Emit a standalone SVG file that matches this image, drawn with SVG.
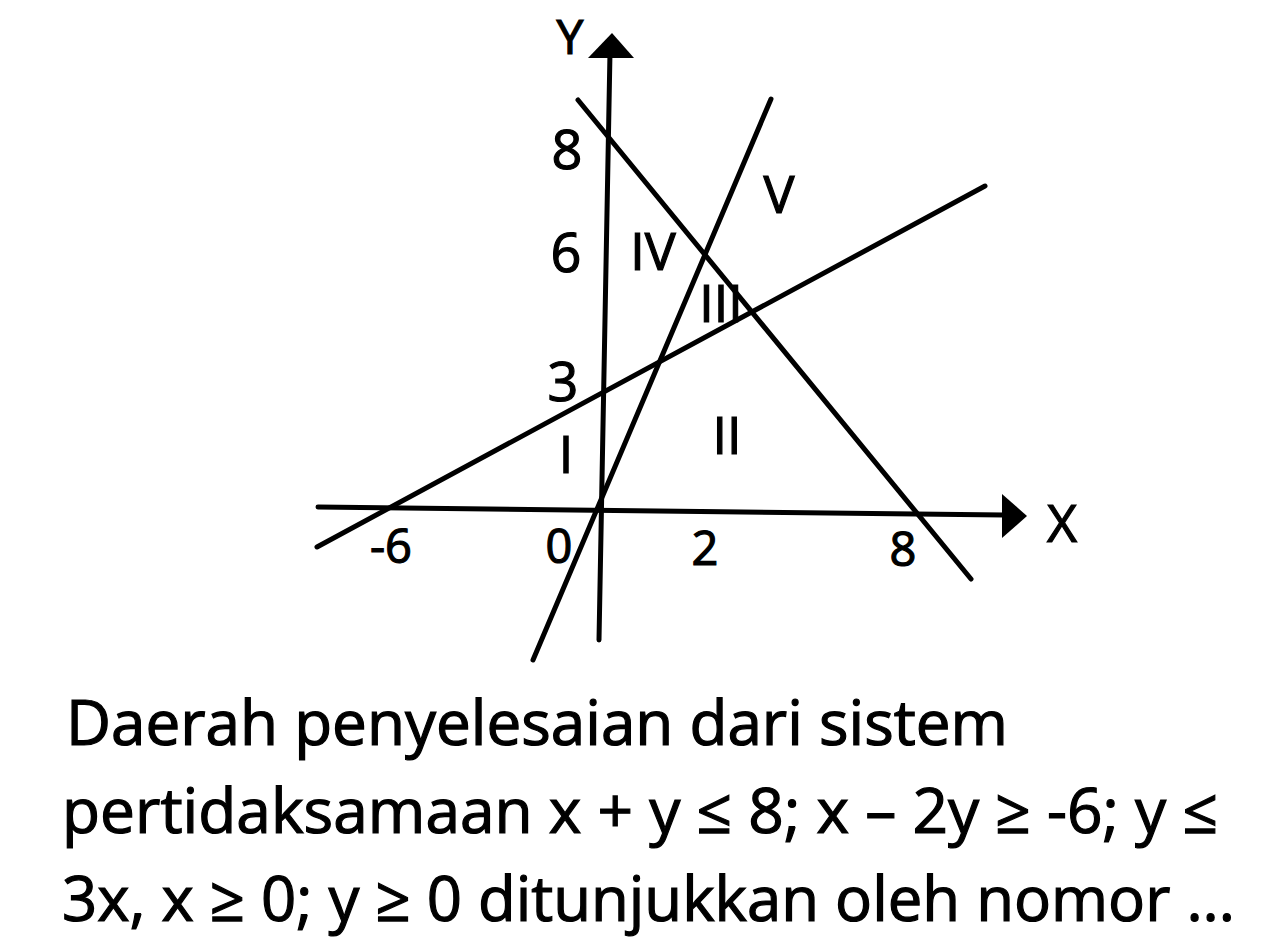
<svg xmlns="http://www.w3.org/2000/svg" width="1280" height="940" viewBox="0 0 1280 940">
<style>
.ln{stroke:#000;stroke-width:5;stroke-linecap:round;fill:none}
.ax{stroke:#000;stroke-width:5;stroke-linecap:round;fill:none}
.t{font-family:"Open Sans","Noto Sans","Liberation Sans",sans-serif;fill:#000;stroke:#000;stroke-width:1.2}
.ylab{font-size:54px;text-anchor:middle}
.xlab{font-size:47px;text-anchor:middle}
.rom{font-size:52px;text-anchor:middle}
.body{font-size:62px}
</style>
<rect width="1280" height="940" fill="#fff"/>
<g id="axes">
  <line class="ax" x1="599" y1="640" x2="610" y2="52"/>
  <polygon points="612,33 588,58 634,58" fill="#000"/>
  <line class="ax" x1="318" y1="507" x2="1004" y2="515"/>
  <polygon points="1027,516 1002,494 1002,538" fill="#000"/>
  <text class="t" x="570" y="54" font-size="48" text-anchor="middle">Y</text>
  <text class="t" x="1062" y="542" font-size="52" text-anchor="middle">X</text>
</g>
<g id="connectors">
  <line class="ln" x1="578" y1="100" x2="971" y2="579"/>
  <line class="ln" x1="317" y1="547" x2="985" y2="186"/>
  <line class="ln" x1="533" y1="660" x2="771" y2="99"/>
</g>
<g id="tick-labels">
  <text class="t ylab" x="567" y="169">8</text>
  <text class="t ylab" x="566" y="272">6</text>
  <text class="t ylab" x="563" y="401">3</text>
  <text class="t xlab" x="391" y="563">-6</text>
  <text class="t xlab" x="559" y="563">0</text>
  <text class="t xlab" x="705" y="565">2</text>
  <text class="t xlab" x="903" y="566">8</text>
</g>
<g id="regions">
  <text class="t rom" x="566" y="473">I</text>
  <text class="t rom" x="727" y="454">II</text>
  <text class="t rom" x="721" y="322">III</text>
  <text class="t rom" x="653" y="270">IV</text>
  <text class="t rom" x="779" y="213">V</text>
</g>
<g id="question">
  <text class="t body" x="66" y="745" textLength="942" lengthAdjust="spacingAndGlyphs">Daerah penyelesaian dari sistem</text>
  <text class="t body" x="62" y="833" textLength="1156" lengthAdjust="spacingAndGlyphs">pertidaksamaan x + y ≤ 8; x – 2y ≥ -6; y ≤</text>
  <text class="t body" x="62" y="921" textLength="1173" lengthAdjust="spacingAndGlyphs">3x, x ≥ 0; y ≥ 0 ditunjukkan oleh nomor ...</text>
</g>
</svg>
